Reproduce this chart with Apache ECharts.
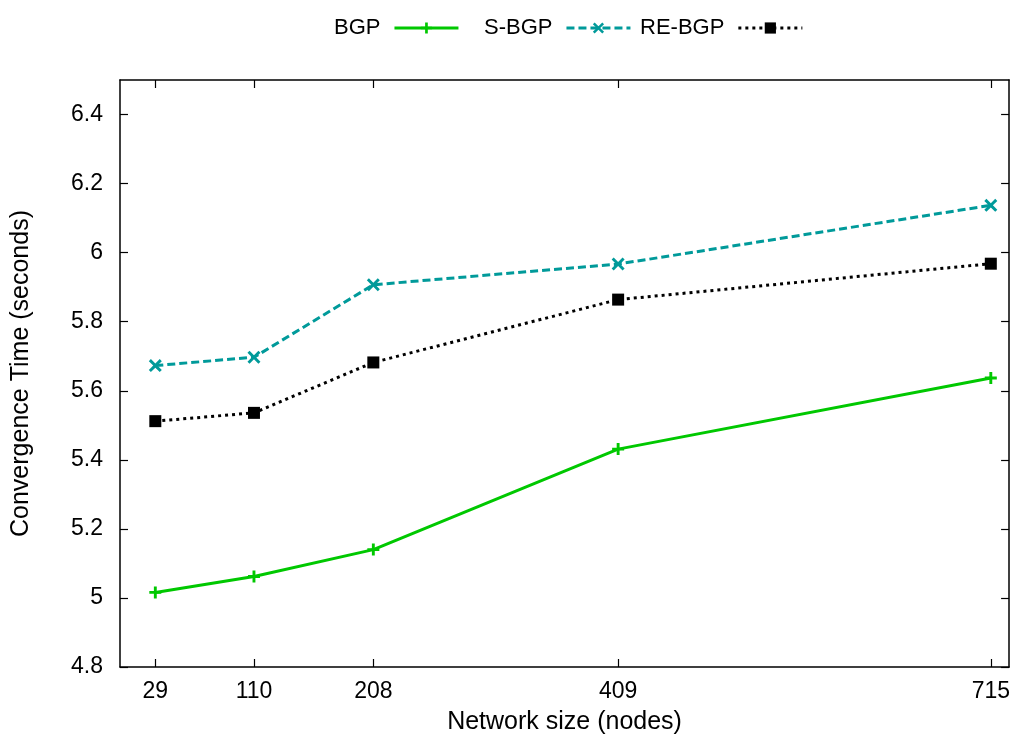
<!DOCTYPE html>
<html><head><meta charset="utf-8">
<script src="https://cdn.jsdelivr.net/npm/echarts@6/dist/echarts.min.js"></script>
<style>html,body{margin:0;padding:0;background:#fff}#c{width:1013px;height:740px}</style>
</head><body><div id="c"></div>
<script>
const nodes = [29, 110, 208, 409, 715];
const bgp = [5.016, 5.062, 5.140, 5.431, 5.637];
const sbgp = [5.673, 5.697, 5.907, 5.967, 6.137];
const rebgp = [5.512, 5.536, 5.682, 5.864, 5.968];
const yTicks = [4.8, 5, 5.2, 5.4, 5.6, 5.8, 6, 6.2, 6.4];

const FONT = '"Liberation Sans", Arial, sans-serif';
const plusPath = 'path://M3.8,0H6.2V3.8H10V6.2H6.2V10H3.8V6.2H0V3.8H3.8Z';
const crossPath = 'path://M1.6,0L5,3.4L8.4,0L10,1.6L6.6,5L10,8.4L8.4,10L5,6.6L1.6,10L0,8.4L3.4,5L0,1.6Z';

const pairs = a => nodes.map((n, i) => [n, a[i]]);
const chart = echarts.init(document.getElementById('c'), null, {renderer: 'canvas'});
const axisLineStyle = {color: '#000', width: 1.5};
const tickStyle = {color: '#000', width: 1.2};
const legendCommon = {top: 12, align: 'right', itemWidth: 64, itemHeight: 14, itemGap: 0,
  lineStyle: {width: 3},
  textStyle: {fontFamily: FONT, fontSize: 22, color: '#000', padding: [0, 9, 0, 0]}};
chart.setOption({
  animation: false,
  legend: [
    Object.assign({left: 329, data: ['BGP']}, legendCommon),
    Object.assign({left: 479, data: ['S-BGP']}, legendCommon),
    Object.assign({left: 635, data: ['RE-BGP']}, legendCommon)
  ],
  grid: {left: 120, top: 80, right: 2, bottom: 71, containLabel: false},
  xAxis: [{
    type: 'value', min: 0, max: 730,
    name: 'Network size (nodes)', nameLocation: 'middle', nameGap: 43,
    nameTextStyle: {fontFamily: FONT, fontSize: 25, color: '#000'},
    axisLine: {show: true, onZero: false, lineStyle: axisLineStyle},
    axisTick: {show: true, inside: true, length: 8, customValues: nodes, lineStyle: tickStyle},
    axisLabel: {customValues: nodes, fontFamily: FONT, fontSize: 23, color: '#000', margin: 13},
    splitLine: {show: false}
  }, {
    type: 'value', min: 0, max: 730, position: 'top',
    axisLine: {show: true, onZero: false, lineStyle: axisLineStyle},
    axisTick: {show: true, inside: true, length: 8, customValues: nodes, lineStyle: tickStyle},
    axisLabel: {show: false}, splitLine: {show: false}
  }],
  yAxis: [{
    type: 'value', min: 4.8, max: 6.5,
    name: 'Convergence Time (seconds)', nameLocation: 'middle', nameGap: 86,
    nameTextStyle: {fontFamily: FONT, fontSize: 25, color: '#000'},
    axisLine: {show: true, onZero: false, lineStyle: axisLineStyle},
    axisTick: {show: true, inside: true, length: 8, customValues: yTicks, lineStyle: tickStyle},
    axisLabel: {customValues: yTicks, fontFamily: FONT, fontSize: 23, color: '#000', margin: 17,
      formatter: v => String(Math.round(v * 10) / 10)},
    splitLine: {show: false}
  }, {
    type: 'value', min: 4.8, max: 6.5, position: 'right',
    axisLine: {show: true, onZero: false, lineStyle: axisLineStyle},
    axisTick: {show: true, inside: true, length: 8, customValues: yTicks, lineStyle: tickStyle},
    axisLabel: {show: false}, splitLine: {show: false}
  }],
  series: [{
    name: 'BGP', type: 'line', data: pairs(bgp),
    symbol: plusPath, symbolSize: 12,
    lineStyle: {color: '#00c800', width: 3},
    itemStyle: {color: '#00c800'}
  }, {
    name: 'S-BGP', type: 'line', data: pairs(sbgp),
    symbol: crossPath, symbolSize: 13,
    lineStyle: {color: '#009a9a', width: 3, type: [8, 4]},
    itemStyle: {color: '#009a9a'}
  }, {
    name: 'RE-BGP', type: 'line', data: pairs(rebgp),
    symbol: 'rect', symbolSize: 12,
    lineStyle: {color: '#000', width: 3, type: [3, 4]},
    itemStyle: {color: '#000'}
  }]
});
</script></body></html>
